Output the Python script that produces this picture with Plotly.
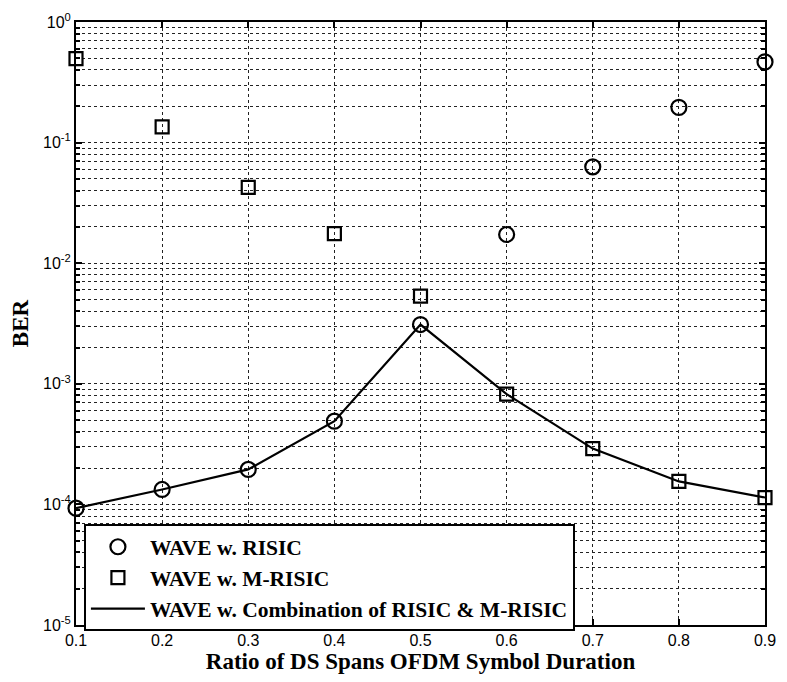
import plotly.graph_objects as go

ratio = [0.1, 0.2, 0.3, 0.4, 0.5, 0.6, 0.7, 0.8, 0.9]
ber_risic = [9.3e-5, 1.33e-4, 1.95e-4, 4.9e-4, 3.1e-3, 0.0173, 0.063, 0.196, 0.467]
ber_mrisic = [0.497, 0.135, 0.0425, 0.0176, 0.00533, 8.2e-4, 2.9e-4, 1.55e-4, 1.14e-4]
ber_comb = [min(a, b) for a, b in zip(ber_risic, ber_mrisic)]

x_ticks = [0.1, 0.2, 0.3, 0.4, 0.5, 0.6, 0.7, 0.8, 0.9]
x_ticktext = ["0.1", "0.2", "0.3", "0.4", "0.5", "0.6", "0.7", "0.8", "0.9"]
y_exps = [-5, -4, -3, -2, -1, 0]

serif = "Times New Roman, Liberation Serif, serif"
sans = "Arial, Liberation Sans, sans-serif"

fig = go.Figure()
fig.add_trace(go.Scatter(
    x=ratio, y=ber_risic, mode="markers", name="<b>WAVE w. RISIC</b>",
    marker=dict(symbol="circle-open", size=15, color="black", line=dict(width=2.2, color="black")),
    cliponaxis=False))
fig.add_trace(go.Scatter(
    x=ratio, y=ber_mrisic, mode="markers", name="<b>WAVE w. M-RISIC</b>",
    marker=dict(symbol="square-open", size=13, color="black", line=dict(width=2.2, color="black")),
    cliponaxis=False))
fig.add_trace(go.Scatter(
    x=ratio, y=ber_comb, mode="lines", name="<b>WAVE w. Combination of RISIC &amp; M-RISIC</b>",
    line=dict(color="black", width=2.2), cliponaxis=False))

minor_vals = [k * 10 ** e for e in range(-5, 0) for k in range(2, 10)]

fig.update_layout(
    width=787, height=682,
    margin=dict(l=76, r=11, t=20, b=57),
    paper_bgcolor="white", plot_bgcolor="white",
    showlegend=True,
    legend=dict(
        x=0.0115, y=0.167, xanchor="left", yanchor="top",
        bgcolor="white", bordercolor="black", borderwidth=2,
        font=dict(family=serif, size=21.5, color="black", weight="bold"),
        tracegroupgap=0, itemwidth=54,
    ),
    xaxis=dict(
        range=[0.1, 0.9], tickvals=x_ticks, ticktext=x_ticktext,
        showline=True, linecolor="black", linewidth=2, mirror="allticks",
        ticks="inside", ticklen=6, tickwidth=1.5, tickcolor="black",
        showgrid=True, gridcolor="#222222", gridwidth=1, griddash="dot",
        zeroline=False,
        tickfont=dict(family=sans, size=16, color="black"),
        title=dict(text="<b>Ratio of DS Spans OFDM Symbol Duration</b>",
                   font=dict(family=serif, size=23, color="black"), standoff=2),
    ),
    yaxis=dict(
        type="log", range=[-5, 0],
        tickvals=[10 ** e for e in y_exps],
        ticktext=["10<sup>%d</sup>" % e for e in y_exps],
        showline=True, linecolor="black", linewidth=2, mirror="allticks",
        ticks="inside", ticklen=6, tickwidth=1.5, tickcolor="black",
        showgrid=True, gridcolor="#222222", gridwidth=1, griddash="dot",
        zeroline=False,
        tickfont=dict(family=sans, size=16, color="black"),
        minor=dict(tickmode="array", tickvals=minor_vals, ticks="inside", ticklen=4,
                   tickcolor="black", showgrid=True, gridcolor="#222222",
                   gridwidth=1, griddash="dot"),
        title=dict(text="<b>BER</b>", font=dict(family=serif, size=23, color="black"), standoff=8),
    ),
)

fig.write_html("out.html", config={"displayModeBar": False},
               post_script="document.body.style.margin='0';document.body.style.overflow='hidden';")
